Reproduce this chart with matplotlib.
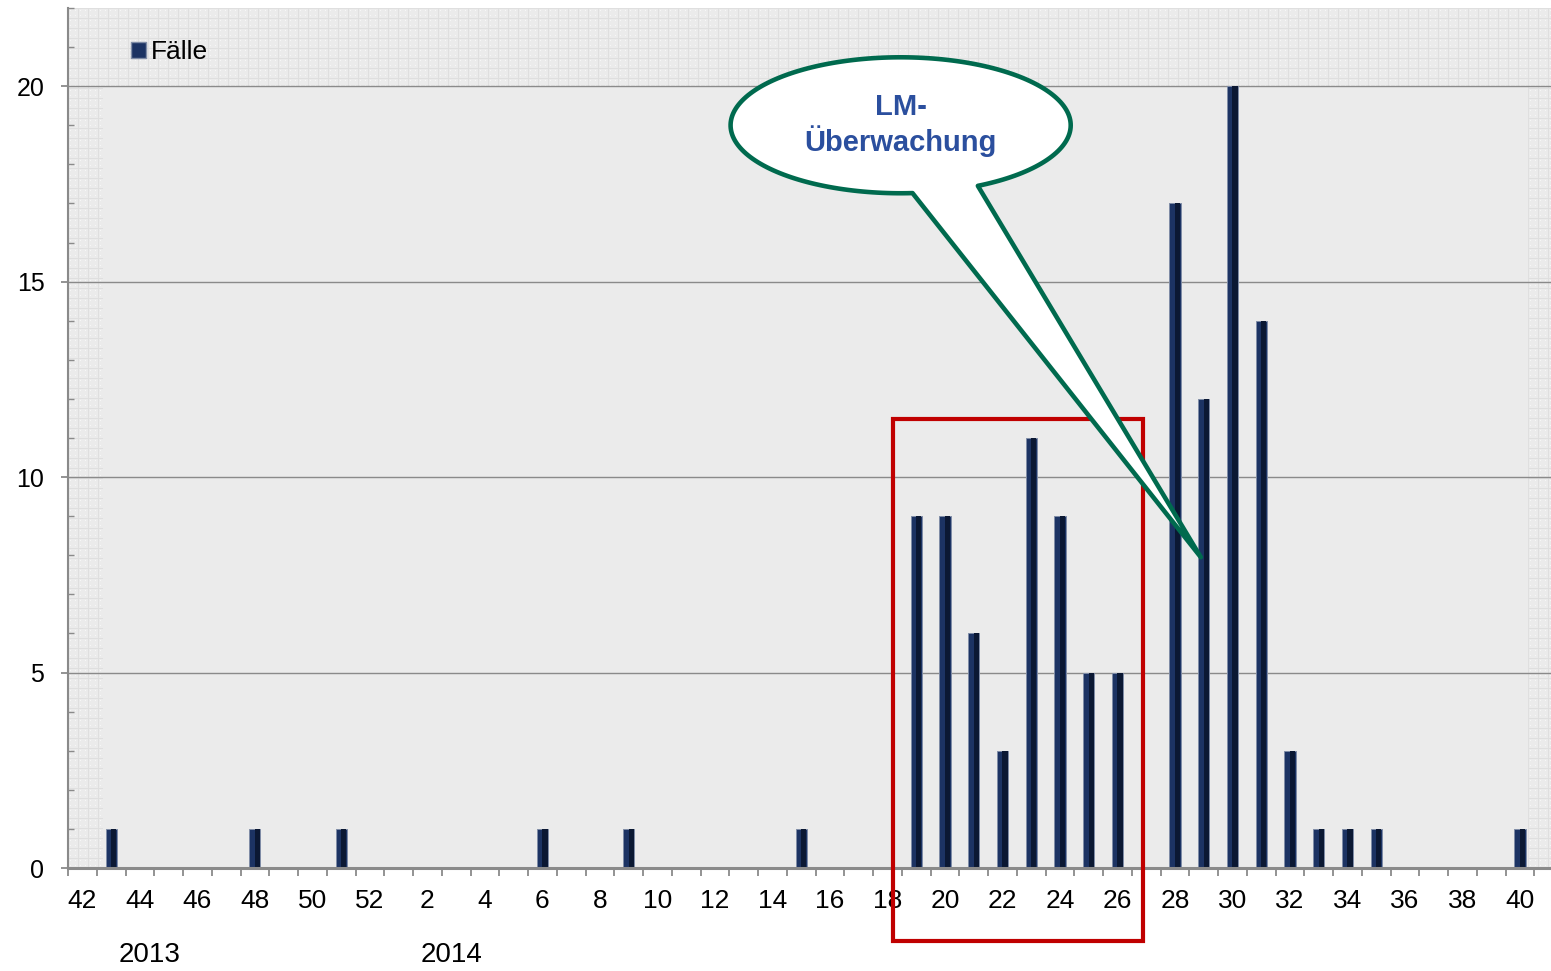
import numpy as np
import matplotlib
matplotlib.use("Agg")
import matplotlib.pyplot as plt
from matplotlib.patches import Patch, Rectangle, PathPatch
from matplotlib.path import Path

plt.rcParams['font.family'] = ['Liberation Sans', 'DejaVu Sans']

# Weekly case counts, week 42/2013 to week 41/2014
weeks_2013 = list(range(42, 53))
cases_2013 = [0, 1, 0, 0, 0, 0, 1, 0, 0, 1, 0]
weeks_2014 = list(range(1, 42))
cases_2014 = [0, 0, 0, 0, 0, 1, 0, 0, 1, 0,
              0, 0, 0, 0, 1, 0, 0, 0, 9, 9,
              6, 3, 11, 9, 5, 5, 0, 17, 12, 20,
              14, 3, 1, 1, 1, 0, 0, 0, 0, 1,
              0]
year_labels = ['2013', '2014']
series_name = 'Fälle'
callout_text = 'LM-\nÜberwachung'

weeks = weeks_2013 + weeks_2014
cases = np.array(cases_2013 + cases_2014)
idx = np.arange(len(weeks))

W, H = 1551, 971
fig = plt.figure(figsize=(W / 100, H / 100), dpi=100)
ax_l, ax_r, ax_t, ax_b = 68, 1551, 8, 868
ax = fig.add_axes([ax_l / W, 1 - ax_b / H, (ax_r - ax_l) / W, (ax_b - ax_t) / H])
ax.set_facecolor('none')

# fine textured wall behind the plot
tw, th = ax_r - ax_l, ax_b - ax_t
tex = np.full((th, tw), 0.925)
yy, xx = np.mgrid[0:th, 0:tw]
tex[((xx % 5 == 2) & (yy % 5 == 2))] = 0.97
tex[(xx % 10 == 0) | (yy % 10 == 0)] = 0.875
fig.figimage(np.dstack([tex] * 3), xo=ax_l, yo=H - ax_b, zorder=-1)

ax.set_xlim(-0.5, 51.08)
ax.set_ylim(0, 22)

# inner back wall
ax.add_patch(Rectangle((0.73, 0), 50.28 - 0.73, 20, facecolor='#ebebeb',
                       edgecolor='none', zorder=0.5))
for v in [5, 10, 15, 20]:
    ax.axhline(v, color='#8a8a8a', lw=1.0, zorder=1)

# bars with a darker right side
ax.bar(idx, cases, width=0.39, color='#1c3363', edgecolor='#7f8ca6',
       lw=0.7, zorder=2)
ax.bar(idx, cases, width=0.18, align='edge', color='#0b1833',
       edgecolor='none', zorder=2.1)

# axes styling
for s in ['top', 'right']:
    ax.spines[s].set_visible(False)
ax.spines['left'].set_color('#8a8a8a')
ax.spines['left'].set_linewidth(1.5)
ax.spines['bottom'].set_color('#8a8a8a')
ax.spines['bottom'].set_linewidth(2.2)
ax.spines['bottom'].set_zorder(3)

ax.set_yticks([0, 5, 10, 15, 20])
ax.set_yticks([v for v in range(1, 23) if v % 5], minor=True)
ax.tick_params(axis='y', which='major', direction='out', length=5, width=1.3,
               color='#8a8a8a', labelsize=18, pad=12)
ax.tick_params(axis='y', which='minor', direction='in', length=4, width=1.0,
               color='#8a8a8a')

label_pos = [i for i, w in zip(idx, weeks) if w % 2 == 0 and i <= 50]
ax.set_xticks(label_pos)
ax.set_xticklabels([str(weeks[i]) for i in label_pos])
ax.set_xticks(np.arange(-0.5, 51, 1.0), minor=True)
ax.tick_params(axis='x', which='major', length=0, labelsize=19, pad=15)
ax.tick_params(axis='x', which='minor', direction='out', length=6, width=1.3,
               color='#8a8a8a')

# year labels under the week axis
fig.text(150 / W, 1 - 955 / H, year_labels[0], ha='center', va='center', fontsize=20)
fig.text(452 / W, 1 - 955 / H, year_labels[1], ha='center', va='center', fontsize=20)

# legend
ax.legend(handles=[Patch(facecolor='#1c3363', edgecolor='#7f8ca6', label=series_name)],
          loc='center left', bbox_to_anchor=(131 / W, 1 - 52 / H),
          bbox_transform=fig.transFigure, frameon=False, fontsize=19,
          handlelength=0.55, handleheight=0.55, handletextpad=0.2,
          borderpad=0, borderaxespad=0)

# highlighted period
ax.add_patch(Rectangle((28.18, -1.87), 36.88 - 28.18, 11.48 + 1.87, fill=False,
                       edgecolor='#c00000', lw=3, zorder=4, clip_on=False))

# speech bubble callout
cx, cy, a, b = 28.46, 19.0, 5.915, 1.739
tip = (38.9, 7.95)
t = np.radians(np.linspace(-63, 274, 200))
verts = list(zip(cx + a * np.cos(t), cy + b * np.sin(t)))
verts.append(tip)
verts.append(verts[0])
codes = [Path.MOVETO] + [Path.LINETO] * (len(verts) - 2) + [Path.CLOSEPOLY]
ax.add_patch(PathPatch(Path(verts, codes), facecolor='white', edgecolor='#006a4e',
                       lw=3.3, zorder=5, joinstyle='round', clip_on=False))
ax.text(cx, cy, callout_text, ha='center', va='center', fontsize=21,
        fontweight='bold', color='#2b4f9e', zorder=6, linespacing=1.15,
        multialignment='center')

fig.savefig('out.png', dpi=100)
